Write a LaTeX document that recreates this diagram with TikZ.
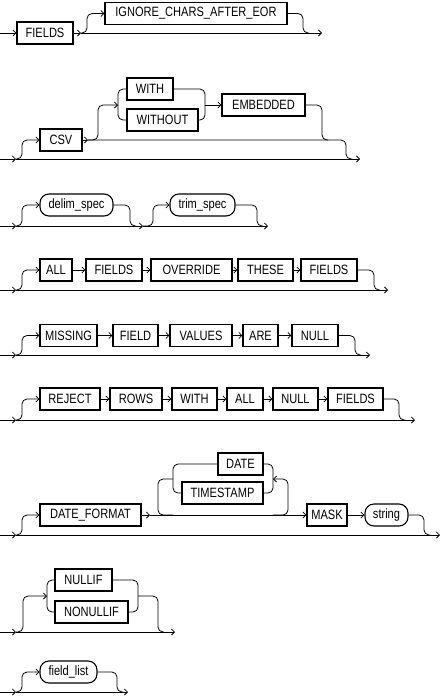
\documentclass[tikz,border=0pt]{standalone}
\usepackage{fontspec}
\setmainfont{Liberation Sans}[FakeStretch=0.82]
\usetikzlibrary{arrows.meta}

\begin{document}
\begin{tikzpicture}[x=1pt,y=-1pt,line width=0.8pt,
	>={Straight Barb[length=3pt,width=6pt]},
	kw/.style={draw,line width=1.1pt,minimum height=22,inner sep=0pt,font=\fontsize{13.5}{15}\selectfont},
	nt/.style={kw,rounded corners=9},
	railturn/.style={rounded corners=5}]
	\useasboundingbox (0,0) rectangle (444,699);
	
	\coordinate (r1s) at (0,33);
	\coordinate (r1a) at (81,33);
	\coordinate (r1b) at (303,33);
	\coordinate (r1e) at (322,33);
	\node[kw,minimum width=56] (fields1) at (45,33) {FIELDS};
	\node[kw,minimum width=182] (ignore) at (196,13.5) {IGNORE\_CHARS\_AFTER\_EOR};
	\draw[->] (r1s) -- (fields1.west);
	\draw[->] (fields1.east) -- (r1a);
	\draw[->] (r1a) -- (r1e);
	\draw[->,railturn] (r1a) -- ++(6,0) |- (ignore.west);
	\draw[railturn] (ignore.east) -| (r1b) -- ++(6,0);
	
	\coordinate (r2s) at (0,159);
	\coordinate (r2a) at (16,159);
	\coordinate (r2b) at (88,140);
	\coordinate (r2c) at (118,105);
	\coordinate (r2d) at (205,105);
	\coordinate (r2f) at (322,140);
	\coordinate (r2g) at (346,159);
	\coordinate (r2e) at (360,159);
	\node[kw,minimum width=42] (csv) at (61,140) {CSV};
	\node[kw,minimum width=46] (with2) at (150,89) {WITH};
	\node[kw,minimum width=71] (without) at (162.5,120) {WITHOUT};
	\node[kw,minimum width=83] (embedded) at (263.5,105) {EMBEDDED};
	\draw[->] (r2s) -- (r2a);
	\draw[->] (r2a) -- (r2e);
	\draw[->,railturn] (r2a) -- ++(6,0) |- (csv.west);
	\draw[->] (csv.east) -- (r2b);
	\draw[railturn] (r2b) -| (r2g) -- ++(6,0);
	\draw[->,railturn] (r2b) -- ++(10,0) |- (r2c);
	\draw[railturn] (with2.west) -| (r2c) |- (without.west);
	\draw[railturn] (with2.east) -| (r2d) |- (without.east);
	\draw[->] (r2d) -- (embedded.west);
	\draw[railturn] (embedded.east) -| (r2f) -- ++(6,0);
	
	\coordinate (r3s) at (0,226);
	\coordinate (r3a) at (16,226);
	\coordinate (r3b) at (130,226);
	\coordinate (r3c) at (143,226);
	\coordinate (r3d) at (257,226);
	\coordinate (r3e) at (268,226);
	\node[nt,minimum width=73] (delim) at (76.5,205) {delim\_spec};
	\node[nt,minimum width=65] (trim) at (202.5,205) {trim\_spec};
	\draw[->] (r3s) -- (r3a);
	\draw[->] (r3a) -- (r3c);
	\draw[->] (r3c) -- (r3e);
	\draw[->,railturn] (r3a) -- ++(6,0) |- (delim.west);
	\draw[railturn] (delim.east) -| (r3b) -- ++(6,0);
	\draw[->,railturn] (r3c) -- ++(10,0) |- (trim.west);
	\draw[railturn] (trim.east) -| (r3d) -- ++(6,0);
	
	\coordinate (r4s) at (0,290);
	\coordinate (r4a) at (16,290);
	\coordinate (r4b) at (374,290);
	\coordinate (r4e) at (388,290);
	\node[kw,minimum width=32] (all4) at (56,270) {ALL};
	\node[kw,minimum width=56] (fields4a) at (114,270) {FIELDS};
	\node[kw,minimum width=81] (override) at (191.5,270) {OVERRIDE};
	\node[kw,minimum width=55] (these) at (265.5,270) {THESE};
	\node[kw,minimum width=56] (fields4b) at (329,270) {FIELDS};
	\draw[->] (r4s) -- (r4a);
	\draw[->] (r4a) -- (r4e);
	\draw[->,railturn] (r4a) -- ++(6,0) |- (all4.west);
	\draw[->] (all4) -- (fields4a);
	\draw[->] (fields4a) -- (override);
	\draw[->] (override) -- (these);
	\draw[->] (these) -- (fields4b);
	\draw[railturn] (fields4b.east) -| (r4b) -- ++(6,0);
	
	\coordinate (r5s) at (0,355);
	\coordinate (r5a) at (16,355);
	\coordinate (r5b) at (355,355);
	\coordinate (r5e) at (370,355);
	\node[kw,minimum width=57] (missing) at (68.5,335.5) {MISSING};
	\node[kw,minimum width=45] (field5) at (135.5,335.5) {FIELD};
	\node[kw,minimum width=62] (values) at (201,335.5) {VALUES};
	\node[kw,minimum width=35] (are) at (260.5,335.5) {ARE};
	\node[kw,minimum width=46] (null5) at (315,335.5) {NULL};
	\draw[->] (r5s) -- (r5a);
	\draw[->] (r5a) -- (r5e);
	\draw[->,railturn] (r5a) -- ++(6,0) |- (missing.west);
	\draw[->] (missing) -- (field5);
	\draw[->] (field5) -- (values);
	\draw[->] (values) -- (are);
	\draw[->] (are) -- (null5);
	\draw[railturn] (null5.east) -| (r5b) -- ++(6,0);
	
	\coordinate (r6s) at (0,420);
	\coordinate (r6a) at (16,420);
	\coordinate (r6b) at (399,420);
	\coordinate (r6e) at (415,420);
	\node[kw,minimum width=60] (reject) at (70,399) {REJECT};
	\node[kw,minimum width=52] (rows) at (136,399) {ROWS};
	\node[kw,minimum width=45] (with6) at (194.5,399) {WITH};
	\node[kw,minimum width=36] (all6) at (245,399) {ALL};
	\node[kw,minimum width=45] (null6) at (295.5,399) {NULL};
	\node[kw,minimum width=55] (fields6) at (355.5,399) {FIELDS};
	\draw[->] (r6s) -- (r6a);
	\draw[->] (r6a) -- (r6e);
	\draw[->,railturn] (r6a) -- ++(6,0) |- (reject.west);
	\draw[->] (reject) -- (rows);
	\draw[->] (rows) -- (with6);
	\draw[->] (with6) -- (all6);
	\draw[->] (all6) -- (null6);
	\draw[->] (null6) -- (fields6);
	\draw[railturn] (fields6.east) -| (r6b) -- ++(6,0);
	
	\coordinate (r7s) at (0,535);
	\coordinate (r7a) at (16,535);
	\coordinate (r7b) at (150,515);
	\coordinate (r7p) at (173,479);
	\coordinate (r7q) at (273,479);
	\coordinate (r7m) at (158,515);
	\coordinate (r7n) at (273,515);
	\coordinate (r7c) at (424,535);
	\coordinate (r7e) at (440,535);
	\node[kw,minimum width=101] (dateformat) at (90.5,515) {DATE\_FORMAT};
	\node[kw,minimum width=45] (date) at (240.5,464) {DATE};
	\node[kw,minimum width=81] (timestamp) at (222.5,493) {TIMESTAMP};
	\node[kw,minimum width=40] (mask) at (327,515) {MASK};
	\node[nt,minimum width=43] (string) at (386.5,515) {string};
	\draw[->] (r7s) -- (r7a);
	\draw[->] (r7a) -- (r7e);
	\draw[->,railturn] (r7a) -- ++(6,0) |- (dateformat.west);
	\draw[->] (dateformat.east) -- (r7b);
	\draw[->] (r7b) -- (mask.west);
	\draw[railturn] (date.west) -| (r7p) |- (timestamp.west);
	\draw[railturn] (date.east) -| (r7q) |- (timestamp.east);
	\draw[railturn] (r7p) -| (r7m) -- ++(15,0);
	\draw[->,railturn] (r7n) -- ++(15,0) |- (r7q);
	\draw[->] (mask) -- (string);
	\draw[railturn] (string.east) -| (r7c) -- ++(6,0);
	
	\coordinate (r8s) at (0,632);
	\coordinate (r8a) at (16,632);
	\coordinate (r8p) at (47,596);
	\coordinate (r8q) at (138,596);
	\coordinate (r8b) at (158,632);
	\coordinate (r8e) at (175,632);
	\node[kw,minimum width=57] (nullif) at (83.5,580) {NULLIF};
	\node[kw,minimum width=73] (nonullif) at (91.5,612) {NONULLIF};
	\draw[->] (r8s) -- (r8a);
	\draw[->] (r8a) -- (r8e);
	\draw[->,railturn] (r8a) -- ++(7,0) |- (r8p);
	\draw[railturn] (nullif.west) -| (r8p) |- (nonullif.west);
	\draw[railturn] (nullif.east) -| (r8q) |- (nonullif.east);
	\draw[railturn] (r8q) -| (r8b) -- ++(6,0);
	
	\coordinate (r9s) at (0,692);
	\coordinate (r9a) at (16,692);
	\coordinate (r9b) at (117,692);
	\coordinate (r9e) at (128,692);
	\node[nt,minimum width=57] (fieldlist) at (68.5,672) {field\_list};
	\draw[->] (r9s) -- (r9a);
	\draw[->] (r9a) -- (r9e);
	\draw[->,railturn] (r9a) -- ++(6,0) |- (fieldlist.west);
	\draw[railturn] (fieldlist.east) -| (r9b) -- ++(6,0);
	
\end{tikzpicture}
\end{document}
